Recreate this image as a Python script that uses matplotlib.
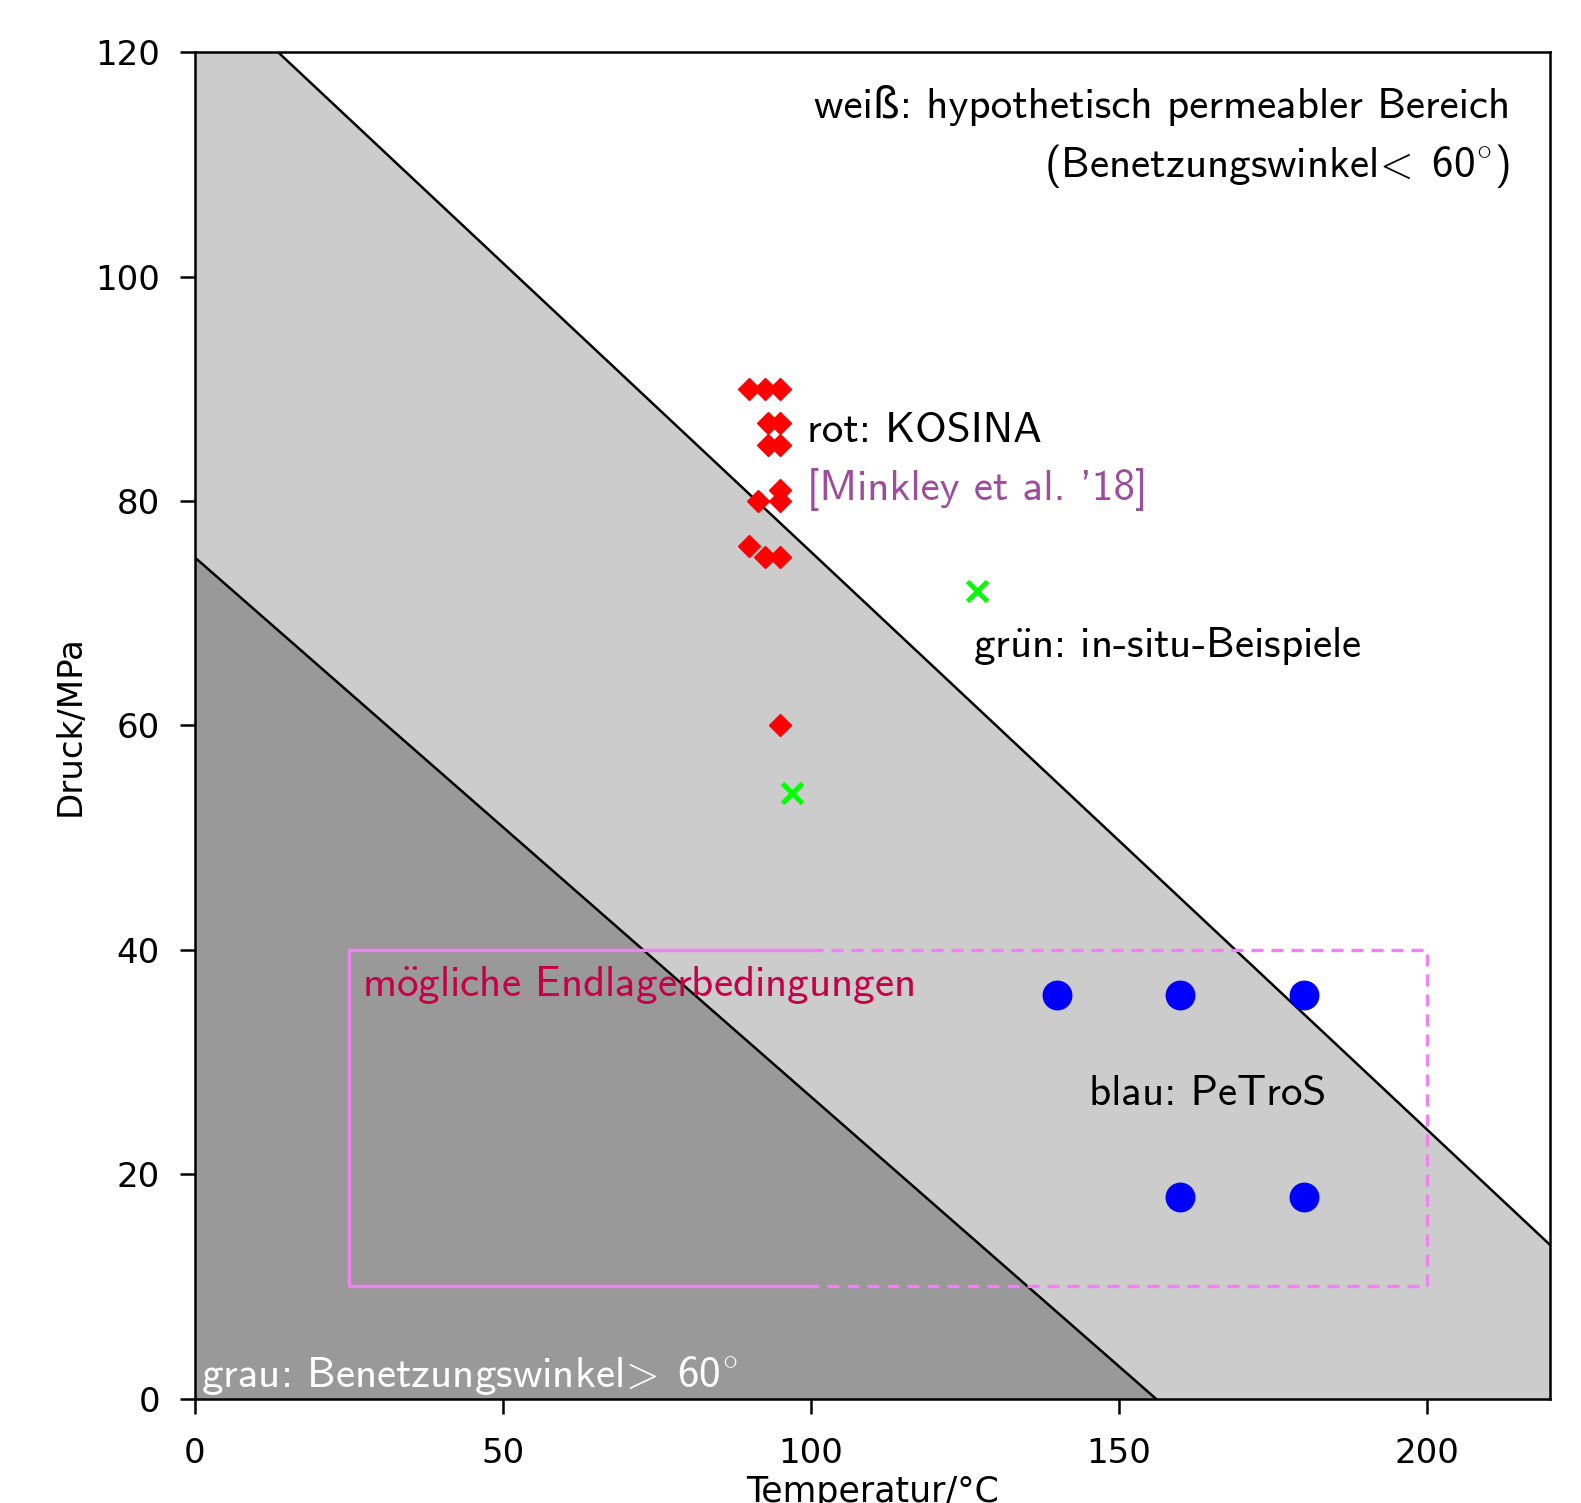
import matplotlib
matplotlib.use("Agg")
import matplotlib.pyplot as plt

plt.rcParams['mathtext.fontset'] = 'cm'

# ---------------- data ----------------
upper_T = [0, 220]
upper_P = [127.0, 13.7]
lower_T = [0, 156]
lower_P = [75, 0]

kosina_T = [90, 92.5, 95, 93, 95, 93, 95, 95, 91.5, 95, 90, 92.5, 95, 95]
kosina_P = [90, 90, 90, 87, 87, 85, 85, 81, 80, 80, 76, 75, 75, 60]

insitu_T = [127, 97]
insitu_P = [72, 54]

petros_T = [140, 160, 180, 160, 180]
petros_P = [36, 36, 36, 18, 18]

box_solid_T = [100, 25, 25, 100]
box_solid_P = [40, 40, 10, 10]
box_dash_T = [100, 200, 200, 100]
box_dash_P = [40, 40, 10, 10]

x_ticks = [0, 50, 100, 150, 200]
y_ticks = [0, 20, 40, 60, 80, 100, 120]

# ---------------- figure ----------------
fig = plt.figure(figsize=(15.81, 15.03), dpi=100)
ax = fig.add_axes([0.1231, 0.0695, 0.8573, 0.8956])

ax.fill_between(upper_T, 0, upper_P, color='#cccccc', lw=0, zorder=1)
ax.fill_between(lower_T, 0, lower_P, color='#999999', lw=0, zorder=1.5)
ax.plot(upper_T, upper_P, color='black', lw=1.8, zorder=2)
ax.plot(lower_T, lower_P, color='black', lw=1.8, zorder=2)

ax.plot(box_solid_T, box_solid_P, color='violet', lw=2.4, zorder=3)
ax.plot(box_dash_T, box_dash_P, color='violet', lw=2.4, ls=(0, (3.6, 2.4)), zorder=3)

ax.plot(kosina_T, kosina_P, ls='none', marker='D', ms=11, color='red', zorder=5)
ax.plot(insitu_T, insitu_P, ls='none', marker='x', ms=14, mew=3.5, color='lime', zorder=5)
ax.plot(petros_T, petros_P, ls='none', marker='o', ms=20.5, color='blue', zorder=5)

fs = 31
fam = ['cmss10', 'DejaVu Sans']
ax.text(213.5, 114.2, "weiß: hypothetisch permeabler Bereich", ha='right', va='baseline',
        fontsize=fs, family=fam, zorder=6)
ax.text(213.5, 108.9, r"(Benetzungswinkel$\!{<}\;\mathdefault{60}^{\circ}$)", ha='right',
        va='baseline', fontsize=fs, family='cmss10', zorder=6)
ax.text(99.4, 85.3, "rot: KOSINA", ha='left', va='baseline', fontsize=fs, family=fam, zorder=6)
ax.text(99.4, 80.1, "[Minkley et al. '18]", ha='left', va='baseline', fontsize=fs,
        family=fam, color='#9c4d9c', zorder=6)
ax.text(126.3, 66.1, r"gr$\ddot{\mathsf{u}}$n: in-situ-Beispiele", ha='left', va='baseline',
        fontsize=fs, family='cmss10', zorder=6)
ax.text(27.2, 35.9, r"m$\ddot{\mathsf{o}}$gliche Endlagerbedingungen", ha='left', va='baseline',
        fontsize=fs, family='cmss10', color='#c70046', zorder=6)
ax.text(145.2, 26.2, "blau: PeTroS", ha='left', va='baseline', fontsize=fs,
        family=fam, zorder=6)
ax.text(1.0, 1.0, r"grau: Benetzungswinkel$\!{>}\;\mathdefault{60}^{\circ}$", ha='left',
        va='baseline', fontsize=fs, family='cmss10', color='white', zorder=6)

ax.set_xlim(0, 220)
ax.set_ylim(0, 120)
ax.set_xticks(x_ticks)
ax.set_yticks(y_ticks)
ax.tick_params(labelsize=24.5, length=11, width=1.8)
ax.tick_params(axis='x', pad=17)
ax.tick_params(axis='y', pad=14)
for s in ax.spines.values():
    s.set_linewidth(1.8)
    s.set_zorder(7)
ax.set_xlabel("Temperatur/°C", fontsize=25, labelpad=3)
ax.set_ylabel("Druck/MPa", fontsize=24.5, labelpad=6)

fig.savefig("out.png", dpi=100)
